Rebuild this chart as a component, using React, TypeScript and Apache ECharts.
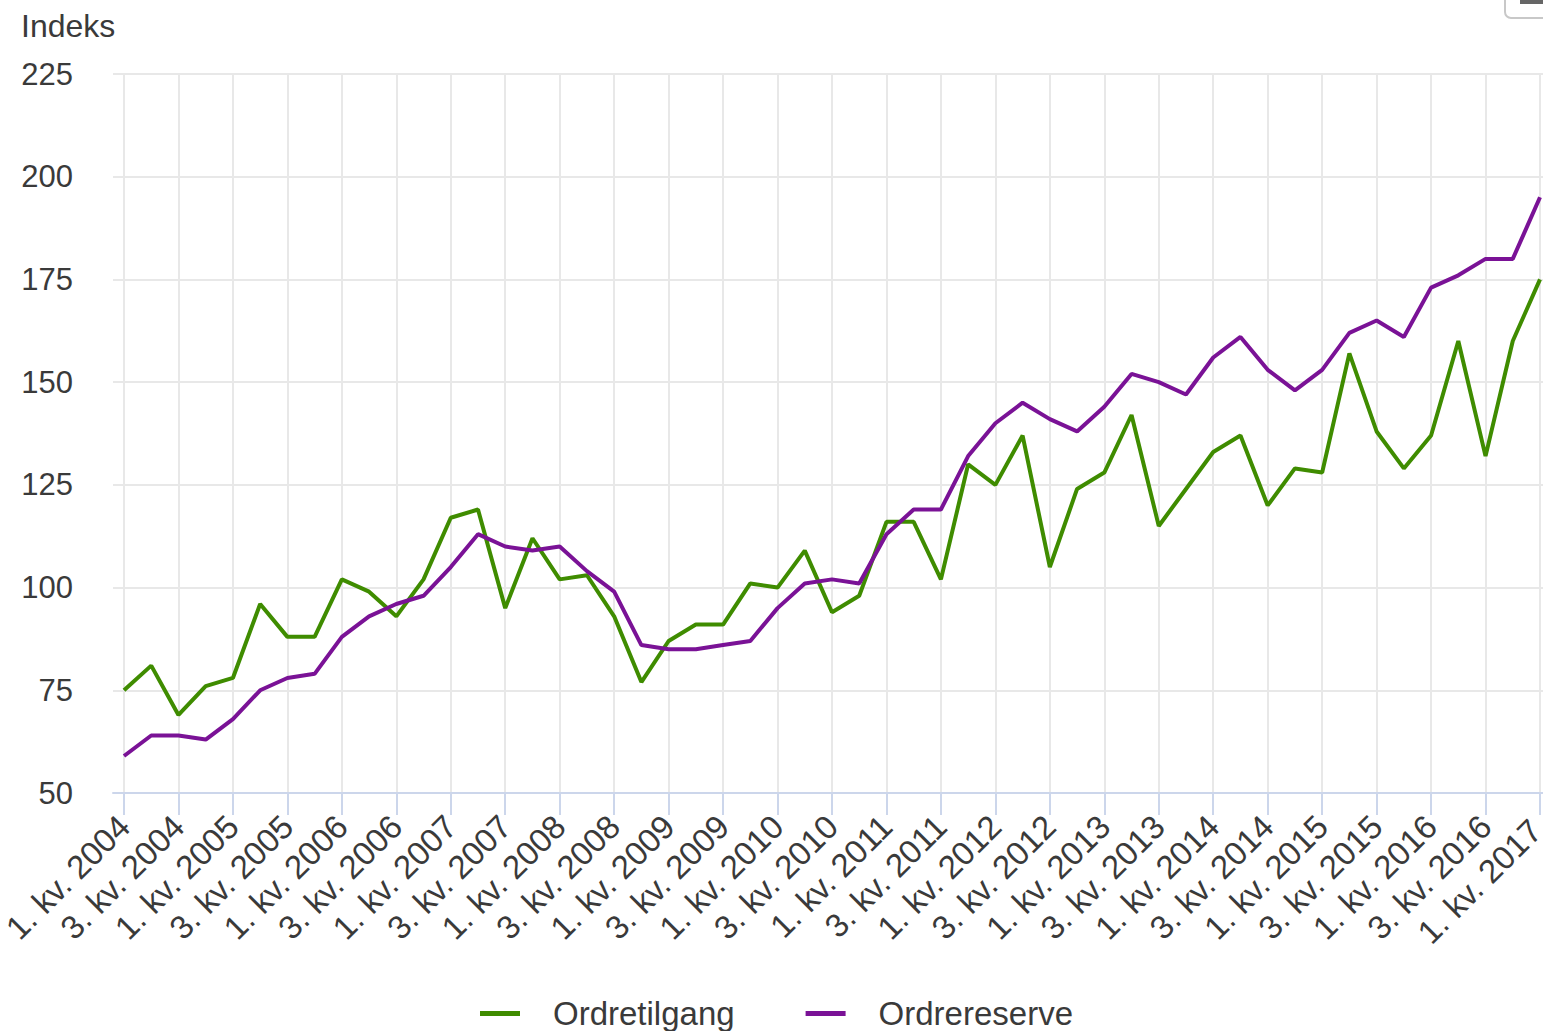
import React, { useEffect, useRef } from "react";
import * as echarts from "echarts";

const years = [2004, 2005, 2006, 2007, 2008, 2009, 2010, 2011, 2012, 2013, 2014, 2015, 2016, 2017];
const quarters = ["1", "2", "3", "4"];
const categories: string[] = [];
for (const y of years) {
  for (const q of quarters) {
    if (y === 2017 && q !== "1") continue;
    categories.push(`${q}. kv. ${y}`);
  }
}

const ordretilgang = [
  75, 81, 69, 76, 78, 96, 88, 88, 102, 99, 93, 102, 117, 119, 95, 112, 102, 103, 93, 77,
  87, 91, 91, 101, 100, 109, 94, 98, 116, 116, 102, 130, 125, 137, 105, 124, 128, 142, 115, 124,
  133, 137, 120, 129, 128, 157, 138, 129, 137, 160, 132, 160, 175,
];
const ordrereserve = [
  59, 64, 64, 63, 68, 75, 78, 79, 88, 93, 96, 98, 105, 113, 110, 109, 110, 104, 99, 86,
  85, 85, 86, 87, 95, 101, 102, 101, 113, 119, 119, 132, 140, 145, 141, 138, 144, 152, 150, 147,
  156, 161, 153, 148, 153, 162, 165, 161, 173, 176, 180, 180, 195,
];

const yMin = 50;
const yMax = 225;
const yStep = 25;

const FONT = "'Liberation Sans', Arial, sans-serif";
const TEXT = "#3a3a3a";
const GREEN = "#3f8c00";
const PURPLE = "#7a1296";

export default function App() {
  const ref = useRef<HTMLDivElement>(null);
  useEffect(() => {
    if (!ref.current) return;
    const chart = echarts.init(ref.current, undefined, { renderer: "svg" });
    const lastIndex = categories.length - 1;
    chart.setOption({
      animation: false,
      backgroundColor: "#ffffff",
      textStyle: { fontFamily: FONT },
      grid: [
        { left: 124, right: 3, top: 74, bottom: 238, containLabel: false, outerBoundsMode: "none" },
        { left: 113, right: 0, top: 74, bottom: 238, containLabel: false, outerBoundsMode: "none" },
      ],
      xAxis: [
        {
          type: "category",
          gridIndex: 0,
          data: categories,
          boundaryGap: false,
          axisLine: { show: false },
          axisTick: {
            show: true,
            interval: 1,
            length: 22,
            lineStyle: { color: "#ccd6eb", width: 2 },
          },
          axisLabel: {
            interval: 1,
            rotate: 45,
            margin: 28,
            verticalAlign: "middle",
            color: TEXT,
            fontSize: 33,
            fontFamily: FONT,
            hideOverlap: false,
            formatter: (value: string, index: number) =>
              index === lastIndex ? `{e|${value}}` : value,
            rich: {
              e: {
                color: TEXT,
                fontSize: 33,
                fontFamily: FONT,
                padding: [0, 6, 0, 0],
              },
            },
          },
          splitLine: {
            show: true,
            interval: 1,
            lineStyle: { color: "#e8e8e8", width: 2 },
          },
        },
        {
          type: "value",
          gridIndex: 1,
          min: 0,
          max: 1,
          axisLine: { show: true, onZero: false, lineStyle: { color: "#ccd6eb", width: 2 } },
          axisTick: { show: false },
          axisLabel: { show: false },
          splitLine: { show: false },
        },
      ],
      yAxis: [
        {
          type: "value",
          gridIndex: 0,
          min: yMin,
          max: yMax,
          interval: yStep,
          axisLine: { show: false },
          axisTick: { show: false },
          axisLabel: { show: false },
          splitLine: { show: false },
        },
        {
          type: "value",
          gridIndex: 1,
          min: yMin,
          max: yMax,
          interval: yStep,
          axisLine: { show: false },
          axisTick: { show: false },
          axisLabel: { color: TEXT, fontSize: 31, fontFamily: FONT, margin: 40 },
          splitLine: { show: true, lineStyle: { color: "#e8e8e8", width: 2 } },
        },
      ],
      legend: {
        left: 480,
        top: 997,
        padding: 0,
        icon: "rect",
        itemWidth: 40,
        itemHeight: 5,
        itemGap: 71,
        textStyle: { color: TEXT, fontSize: 33, fontFamily: FONT, padding: [0, 0, 0, 28] },
        data: ["Ordretilgang", "Ordrereserve"],
      },
      graphic: [
        {
          type: "text",
          style: {
            x: 21,
            y: 26,
            text: "Indeks",
            fill: TEXT,
            font: `32px ${FONT}`,
            verticalAlign: "middle",
            align: "left",
          },
        },
        {
          type: "rect",
          shape: { x: 1505, y: -14, width: 60, height: 32, r: 6 },
          style: { fill: "#ffffff", stroke: "#c8c8c8", lineWidth: 2 },
        },
        {
          type: "rect",
          shape: { x: 1520, y: 0, width: 30, height: 4 },
          style: { fill: "#666666" },
        },
      ],
      series: [
        {
          name: "Ordretilgang",
          type: "line",
          xAxisIndex: 0,
          yAxisIndex: 0,
          data: ordretilgang,
          symbol: "none",
          clip: false,
          lineStyle: { color: GREEN, width: 4 },
          itemStyle: { color: GREEN },
        },
        {
          name: "Ordrereserve",
          type: "line",
          xAxisIndex: 0,
          yAxisIndex: 0,
          data: ordrereserve,
          symbol: "none",
          clip: false,
          lineStyle: { color: PURPLE, width: 4 },
          itemStyle: { color: PURPLE },
        },
      ],
    });
    return () => chart.dispose();
  }, []);
  return (
    <div
      ref={ref}
      style={{ position: "fixed", left: 0, top: 0, width: 1543, height: 1031 }}
    />
  );
}
